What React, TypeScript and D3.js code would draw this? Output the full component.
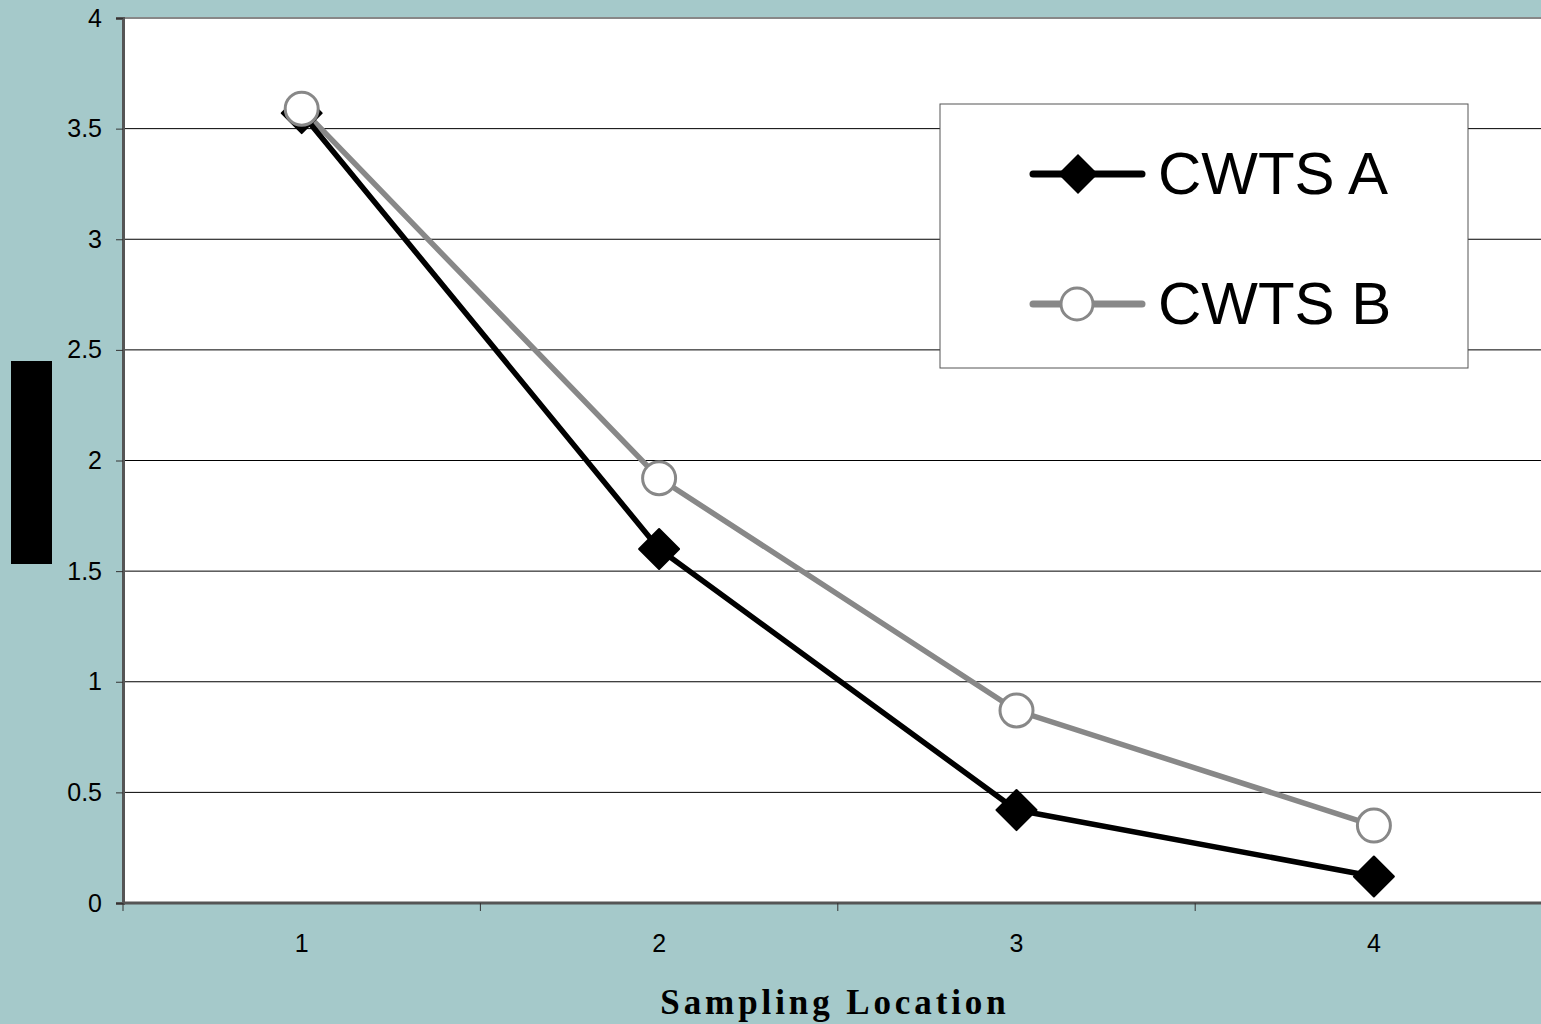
import React, { useEffect, useRef } from "react";
import * as d3 from "d3";

// values
const locations = ["1", "2", "3", "4"];
const cwtsA = [3.57, 1.6, 0.42, 0.12];
const cwtsB = [3.59, 1.92, 0.87, 0.35];
const yTicks = [0, 0.5, 1, 1.5, 2, 2.5, 3, 3.5, 4];
const seriesNames = ["CWTS A", "CWTS B"];

export default function App() {
  const ref = useRef<SVGSVGElement>(null);

  useEffect(() => {
    const W = 1541,
      H = 1024;
    const left = 123,
      top = 18,
      bottom = 903,
      right = 1553;

    const svg = d3.select(ref.current);
    svg.selectAll("*").remove();

    svg.append("rect").attr("width", W).attr("height", H).attr("fill", "#a5c9ca");

    // plot area
    svg
      .append("rect")
      .attr("x", left)
      .attr("y", top)
      .attr("width", right - left)
      .attr("height", bottom - top)
      .attr("fill", "white")
      .attr("stroke", "#888")
      .attr("stroke-width", 2);

    const x = d3
      .scaleBand()
      .domain([...locations, "5"])
      .range([left, right + 357]);
    const y = d3.scaleLinear().domain([0, 4]).range([bottom, top]);

    // gridlines
    svg
      .append("g")
      .selectAll("line")
      .data(yTicks.filter((d) => d > 0 && d < 4))
      .enter()
      .append("line")
      .attr("x1", left)
      .attr("x2", W)
      .attr("y1", (d) => y(d))
      .attr("y2", (d) => y(d))
      .attr("stroke", "#000")
      .attr("stroke-width", 1);

    // y axis
    const yAxis = svg
      .append("g")
      .attr("transform", `translate(${left},0)`)
      .call(
        d3
          .axisLeft(y)
          .tickValues(yTicks)
          .tickSize(7)
          .tickPadding(14)
          .tickFormat((d) => String(d))
      );
    yAxis.attr("font-size", 25).attr("font-family", "Liberation Sans, Arial, sans-serif");
    yAxis.select(".domain").attr("stroke", "#555").attr("stroke-width", 3);
    yAxis.selectAll(".tick line").attr("stroke", "#333");
    yAxis.selectAll("text").attr("fill", "#000");

    // x axis
    const xAxis = svg
      .append("g")
      .attr("transform", `translate(0,${bottom})`)
      .call(d3.axisBottom(x).tickSize(0).tickPadding(31));
    xAxis.attr("font-size", 25).attr("font-family", "Liberation Sans, Arial, sans-serif");
    xAxis.select(".domain").remove();
    xAxis.selectAll(".tick").filter((d) => d === "5").remove();
    xAxis.selectAll("text").attr("fill", "#000");
    svg
      .append("line")
      .attr("x1", left)
      .attr("x2", W)
      .attr("y1", bottom)
      .attr("y2", bottom)
      .attr("stroke", "#555")
      .attr("stroke-width", 3);
    svg
      .append("g")
      .selectAll("line")
      .data([...locations, "5"])
      .enter()
      .append("line")
      .attr("x1", (d) => x(d)!)
      .attr("x2", (d) => x(d)!)
      .attr("y1", bottom)
      .attr("y2", bottom + 8)
      .attr("stroke", "#333");

    const cx = (i: number) => x(locations[i])! + x.bandwidth() / 2;
    const line = d3
      .line<number>()
      .x((d, i) => cx(i))
      .y((d) => y(d));

    svg
      .append("path")
      .datum(cwtsB)
      .attr("d", line)
      .attr("fill", "none")
      .attr("stroke", "#888")
      .attr("stroke-width", 5.5);
    svg
      .append("path")
      .datum(cwtsA)
      .attr("d", line)
      .attr("fill", "none")
      .attr("stroke", "#000")
      .attr("stroke-width", 5.5);

    const diamond = d3.symbol().type(d3.symbolSquare).size(800);
    svg
      .append("g")
      .selectAll("path")
      .data(cwtsA)
      .enter()
      .append("path")
      .attr("d", diamond)
      .attr("transform", (d, i) => `translate(${cx(i)},${y(d)}) rotate(45)`)
      .attr("fill", "#000")
      .attr("stroke", "#000")
      .attr("stroke-linejoin", "round")
      .attr("stroke-width", 2);

    svg
      .append("g")
      .selectAll("circle")
      .data(cwtsB)
      .enter()
      .append("circle")
      .attr("cx", (d, i) => cx(i))
      .attr("cy", (d) => y(d))
      .attr("r", 16.5)
      .attr("fill", "white")
      .attr("stroke", "#888")
      .attr("stroke-width", 3);

    // legend
    const lg = svg.append("g");
    lg.append("rect")
      .attr("x", 940)
      .attr("y", 104)
      .attr("width", 528)
      .attr("height", 264)
      .attr("fill", "white")
      .attr("stroke", "#555")
      .attr("stroke-width", 1);
    seriesNames.forEach((name, i) => {
      const ly = 174 + i * 130;
      const color = i === 0 ? "#000" : "#888";
      lg.append("line")
        .attr("x1", 1033)
        .attr("x2", 1142)
        .attr("y1", ly)
        .attr("y2", ly)
        .attr("stroke", color)
        .attr("stroke-width", 7)
        .attr("stroke-linecap", "round");
      if (i === 0) {
        lg.append("path")
          .attr("d", diamond)
          .attr("transform", `translate(1078,${ly}) rotate(45)`)
          .attr("fill", "#000");
      } else {
        lg.append("circle")
          .attr("cx", 1077)
          .attr("cy", ly)
          .attr("r", 16)
          .attr("fill", "white")
          .attr("stroke", "#888")
          .attr("stroke-width", 3);
      }
      lg.append("text")
        .attr("x", 1158)
        .attr("y", ly + 20)
        .attr("font-family", "Liberation Sans, Arial, sans-serif")
        .attr("font-size", 60)
        .attr("fill", "#000")
        .text(name);
    });

    // redacted y-axis title
    svg
      .append("rect")
      .attr("x", 11)
      .attr("y", 361)
      .attr("width", 41)
      .attr("height", 203)
      .attr("fill", "#000");

    // x-axis title
    svg
      .append("text")
      .attr("x", 835)
      .attr("y", 1014)
      .attr("text-anchor", "middle")
      .attr("font-family", "Liberation Serif, Times New Roman, serif")
      .attr("font-weight", "bold")
      .attr("font-size", 35)
      .attr("letter-spacing", 3.9)
      .attr("fill", "#000")
      .text("Sampling Location");
  }, []);

  return (
    <svg
      ref={ref}
      width={1541}
      height={1024}
      style={{ position: "absolute", left: 0, top: 0, display: "block" }}
    />
  );
}
